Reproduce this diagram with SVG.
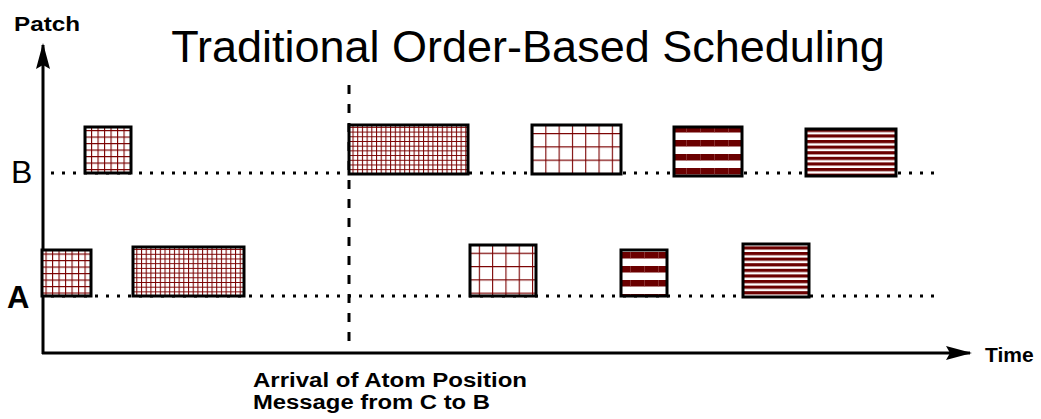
<svg xmlns="http://www.w3.org/2000/svg" width="1041" height="419" viewBox="0 0 1041 419">
<style>
text{font-family:"Liberation Sans",Arial,sans-serif;fill:#000}
.b{font-weight:bold}
.box{stroke:#000;stroke-width:3}
.dot{stroke:#000;stroke-width:3;stroke-dasharray:3 8;fill:none}
.axis{stroke:#000;stroke-width:3;fill:none}
</style>
<defs>
<pattern id="gS" patternUnits="userSpaceOnUse" width="6.5" height="6.5"><rect width="6.5" height="6.5" fill="#fff"/><path d="M0 0.5H6.5M0.5 0V6.5" stroke="#7a0000" stroke-width="1.2"/></pattern>
<pattern id="gF" patternUnits="userSpaceOnUse" width="4.7" height="4.7"><rect width="4.7" height="4.7" fill="#fff"/><path d="M0 0.5H4.7M0.5 0V4.7" stroke="#7a0000" stroke-width="1.1"/></pattern>
<pattern id="gC" patternUnits="userSpaceOnUse" width="13.3" height="13.3"><rect width="13.3" height="13.3" fill="#fff"/><path d="M0 0.5H13.3M0.5 0V13.3" stroke="#7a0000" stroke-width="1.2"/></pattern>
<pattern id="sT" patternUnits="userSpaceOnUse" width="14" height="14"><rect width="14" height="14" fill="#fff"/><rect width="14" height="6.5" fill="#6b0000"/><path d="M0.5 0V6.5" stroke="#a05050" stroke-width="0.6"/></pattern>
<pattern id="sF" patternUnits="userSpaceOnUse" width="5.6" height="5.6"><rect width="5.6" height="5.6" fill="#fff"/><rect width="5.6" height="3.2" fill="#6b0000"/></pattern>
<marker id="ah" viewBox="0 0 26 14" refX="24" refY="7" markerWidth="26" markerHeight="14" markerUnits="userSpaceOnUse" orient="auto"><path d="M0 0L26 7L0 14L4 7Z" fill="#000"/></marker>
</defs>
<text x="528" y="62" font-size="45" text-anchor="middle">Traditional Order-Based Scheduling</text>
<g id="connectors">
<line class="axis" x1="43" y1="354" x2="43" y2="45" marker-end="url(#ah)"/>
<line class="axis" x1="42" y1="353" x2="970" y2="353" marker-end="url(#ah)"/>
<line class="dot" x1="51" y1="173" x2="935" y2="173"/>
<line class="dot" x1="51" y1="296" x2="935" y2="296"/>
<line x1="349" y1="85" x2="349" y2="350" stroke="#000" stroke-width="3" stroke-dasharray="9 10"/>
</g>
<g id="labels">
<text class="b" x="14" y="31" font-size="21" textLength="66" lengthAdjust="spacingAndGlyphs">Patch</text>
<text class="b" x="985" y="362" font-size="21">Time</text>
<text x="11" y="183" font-size="32">B</text>
<text class="b" x="7" y="308" font-size="31">A</text>
<text class="b" x="253" y="387" font-size="20" textLength="274" lengthAdjust="spacingAndGlyphs">Arrival of Atom Position</text>
<text class="b" x="253" y="409" font-size="20" textLength="237" lengthAdjust="spacingAndGlyphs">Message from C to B</text>
</g>
<g id="B1"><rect class="box" x="85" y="127" width="46" height="46" fill="url(#gS)"/></g>
<g id="B2"><rect class="box" x="349" y="125" width="119" height="49" fill="url(#gF)"/></g>
<g id="B3"><rect class="box" x="532" y="125" width="89" height="49" fill="url(#gC)"/></g>
<g id="B4"><rect class="box" x="674" y="127" width="68" height="49" fill="url(#sT)"/></g>
<g id="B5"><rect class="box" x="806" y="129" width="90" height="47" fill="url(#sF)"/></g>
<g id="A1"><rect class="box" x="42" y="250" width="49" height="46" fill="url(#gS)"/></g>
<g id="A2"><rect class="box" x="133" y="247" width="111" height="49" fill="url(#gF)"/></g>
<g id="A3"><rect class="box" x="470" y="245" width="66" height="51" fill="url(#gC)"/></g>
<g id="A4"><rect class="box" x="621" y="250" width="46" height="46" fill="url(#sT)"/></g>
<g id="A5"><rect class="box" x="743" y="244" width="66" height="53" fill="url(#sF)"/></g>
</svg>
